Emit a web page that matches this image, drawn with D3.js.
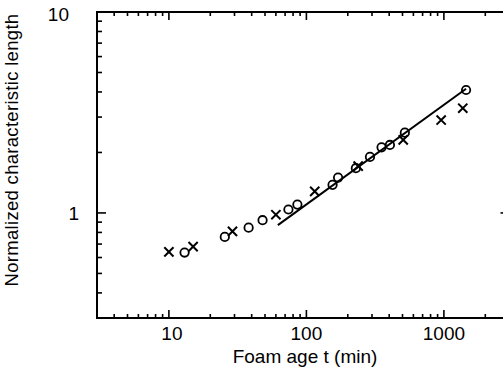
<!DOCTYPE html>
<html><head><meta charset="utf-8">
<script src="https://cdn.jsdelivr.net/npm/d3@7"></script>
<style>
body{margin:0;background:#fff;}
svg text{font-family:"Liberation Sans",Arial,Helvetica,sans-serif;fill:#000;}
</style></head>
<body><svg id="c" width="503" height="381"></svg>
<script>
// Circles series (o)
const circleT = [13, 25.5, 38, 48, 74, 86, 155, 170, 229, 290, 352, 405, 520, 1450];
const circleL = [0.635, 0.76, 0.845, 0.92, 1.04, 1.10, 1.38, 1.50, 1.67, 1.90, 2.12, 2.18, 2.51, 4.09];
// Crosses series (x)
const crossT = [10, 15, 29, 60, 115, 238, 506, 955, 1372];
const crossL = [0.64, 0.68, 0.81, 0.98, 1.28, 1.71, 2.31, 2.9, 3.32];
// Fitted line (slope 1/2)
const fitT = [62, 1450];
const fitL = [0.87, 4.15];
// Tick labels
const xTickLabels = [10, 100, 1000];
const yTickLabels = [1, 10];
const xTitle = "Foam age t  (min)";
const yTitle = "Normalized characteristic length";

const svg = d3.select("#c");
const L = 97, R = 509.5, T = 12, B = 318;
const x = d3.scaleLog().domain([3, 3000]).range([L, R]);
const y = d3.scaleLog().domain([0.3, 10]).range([B, T]);

const isMajor = v => Math.abs(Math.log10(v) - Math.round(Math.log10(v))) < 1e-6;
const xt = x.ticks().filter(v => v >= 3 && v <= 3000);
const yt = y.ticks().filter(v => v >= 0.3 && v <= 10);

// frame
svg.append("rect").attr("x", L).attr("y", T).attr("width", R - L).attr("height", B - T)
  .attr("fill", "none").attr("stroke", "#000").attr("stroke-width", 2);

// ticks, inward on all sides
const g = svg.append("g").attr("stroke", "#000").attr("stroke-width", 1.6);
xt.forEach(v => {
  const len = isMajor(v) ? 8 : 4;
  g.append("line").attr("x1", x(v)).attr("x2", x(v)).attr("y1", B).attr("y2", B - len);
  g.append("line").attr("x1", x(v)).attr("x2", x(v)).attr("y1", T).attr("y2", T + len);
});
yt.forEach(v => {
  const len = isMajor(v) ? 9 : 5;
  g.append("line").attr("y1", y(v)).attr("y2", y(v)).attr("x1", L).attr("x2", L + len);
  g.append("line").attr("y1", y(v)).attr("y2", y(v)).attr("x1", R).attr("x2", R - len);
});

// tick labels
svg.selectAll(".xl").data(xTickLabels).enter().append("text")
  .attr("x", d => x(d) + (d === 10 ? 3 : 0)).attr("y", 340).attr("text-anchor", "middle")
  .attr("font-size", 19).text(d => d);
svg.selectAll(".yl").data(yTickLabels).enter().append("text")
  .attr("x", d => d === 10 ? 69 : 79).attr("y", d => y(d) + (d === 10 ? 9 : 7)).attr("text-anchor", "end")
  .attr("font-size", 19).text(d => d);

// titles
svg.append("text").attr("x", 305).attr("y", 363).attr("text-anchor", "middle")
  .attr("font-size", 19).text(xTitle);
svg.append("text").attr("transform", "translate(17.5,150) rotate(-90)").attr("text-anchor", "middle")
  .attr("font-size", 18.5).attr("letter-spacing", 0.3).text(yTitle);

// fit line
const line = d3.line().x(d => x(d[0])).y(d => y(d[1]));
svg.append("path").datum(fitT.map((t, i) => [t, fitL[i]])).attr("d", line)
  .attr("fill", "none").attr("stroke", "#000").attr("stroke-width", 2);

// circles
svg.selectAll(".o").data(circleT.map((t, i) => [t, circleL[i]])).enter().append("circle")
  .attr("cx", d => x(d[0])).attr("cy", d => y(d[1])).attr("r", 4.2)
  .attr("fill", "none").attr("stroke", "#000").attr("stroke-width", 1.8);

// crosses
const s = 4.6;
svg.selectAll(".xx").data(crossT.map((t, i) => [t, crossL[i]])).enter().append("path")
  .attr("d", d => {
    const cx = x(d[0]), cy = y(d[1]);
    return `M${cx - s},${cy - s}L${cx + s},${cy + s}M${cx - s},${cy + s}L${cx + s},${cy - s}`;
  })
  .attr("fill", "none").attr("stroke", "#000").attr("stroke-width", 2);
</script></body></html>
